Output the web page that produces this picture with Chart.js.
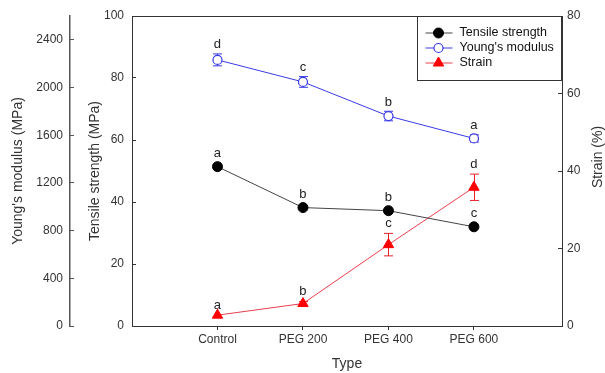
<!DOCTYPE html>
<html>
<head>
<meta charset="utf-8">
<script src="https://cdn.jsdelivr.net/npm/chart.js@4.4.1/dist/chart.umd.min.js"></script>
<style>
  html, body { margin: 0; padding: 0; background: #fff; }
  #wrap { width: 605px; height: 373px; }
</style>
</head>
<body>
<div id="wrap"><canvas id="chart"></canvas></div>
<script>
// Values
const types = ['Control', 'PEG 200', 'PEG 400', 'PEG 600'];

const tensile = [51.4, 38.2, 37.2, 32.0];
const tensileErr = [0, 0, 0, 0];
const tensileLetters = ['a', 'b', 'b', 'c'];

const young = [2232, 2047, 1761, 1573];
const youngErr = [50, 45, 40, 30];
const youngLetters = ['d', 'c', 'b', 'a'];

const strain = [2.8, 5.8, 21.0, 35.8];
const strainErr = [0, 0.5, 2.9, 3.4];
const strainLetters = ['a', 'b', 'c', 'd'];

const tensileTicks = [0, 20, 40, 60, 80, 100];
const youngTicks = [0, 400, 800, 1200, 1600, 2000, 2400];
const strainTicks = [0, 20, 40, 60, 80];

const FONT = 'Liberation Sans, Arial, sans-serif';
const AXIS = '#333';

function points(values) {
  return values.map((v, i) => ({ x: i, y: v }));
}

function setTicks(list) {
  return (scale) => { scale.ticks = list.map(v => ({ value: v })); };
}

// fixed axis width, and no extra room above/below for the end labels
function fixWidth(w) {
  return (scale) => {
    scale.width = w;
    scale.paddingTop = 0;
    scale.paddingBottom = 0;
  };
}

// error bars go under the markers
const errorBars = {
  id: 'errorBars',
  beforeDatasetsDraw(chart) {
    const ctx = chart.ctx;
    const xScale = chart.scales.x;
    chart.data.datasets.forEach(ds => {
      const yScale = chart.scales[ds.yAxisID];
      ctx.save();
      ctx.strokeStyle = ds.errColor;
      ctx.lineWidth = 1;
      ds.data.forEach((p, j) => {
        const e = ds.errors[j];
        if (!e) return;
        const x = Math.round(xScale.getPixelForValue(p.x)) + 0.5;
        const y1 = yScale.getPixelForValue(p.y + e);
        const y2 = yScale.getPixelForValue(p.y - e);
        ctx.beginPath();
        ctx.moveTo(x, y1); ctx.lineTo(x, y2);
        ctx.moveTo(x - 4.5, y1); ctx.lineTo(x + 4.5, y1);
        ctx.moveTo(x - 4.5, y2); ctx.lineTo(x + 4.5, y2);
        ctx.stroke();
      });
      ctx.restore();
    });
  },
  afterDatasetsDraw(chart) {
    // significance letters
    const ctx = chart.ctx;
    const xScale = chart.scales.x;
    ctx.save();
    ctx.font = '13px ' + FONT;
    ctx.fillStyle = '#222';
    ctx.textAlign = 'center';
    ctx.textBaseline = 'middle';
    chart.data.datasets.forEach(ds => {
      const yScale = chart.scales[ds.yAxisID];
      ds.data.forEach((p, j) => {
        const x = xScale.getPixelForValue(p.x);
        const y = yScale.getPixelForValue(p.y + ds.errors[j]) - ds.letterGap;
        ctx.fillText(ds.letters[j], x, y);
      });
    });
    ctx.restore();
  }
};

const frame = {
  id: 'frame',
  afterDraw(chart) {
    const ctx = chart.ctx;
    const area = chart.chartArea;
    ctx.save();
    // top edge of the plot box
    ctx.strokeStyle = AXIS;
    ctx.lineWidth = 1;
    ctx.beginPath();
    ctx.moveTo(area.left, area.top + 0.5);
    ctx.lineTo(area.right, area.top + 0.5);
    ctx.stroke();

    // right axis title reads bottom to top
    ctx.translate(598, 157);
    ctx.rotate(-Math.PI / 2);
    ctx.font = '14px ' + FONT;
    ctx.fillStyle = AXIS;
    ctx.textAlign = 'center';
    ctx.textBaseline = 'middle';
    ctx.fillText('Strain (%)', 0, 0);
    ctx.restore();

    // legend box
    const right = area.right - 0.5;
    const left = right - 144;
    const top = area.top + 0.5;
    ctx.save();
    ctx.fillStyle = '#fff';
    ctx.fillRect(left, top, 144, 64);
    ctx.strokeStyle = AXIS;
    ctx.strokeRect(left, top, 144, 64);
    ctx.font = '12.5px ' + FONT;
    ctx.textBaseline = 'middle';
    chart.data.datasets.forEach((ds, i) => {
      const y = top + 16.5 + i * 15;
      ctx.strokeStyle = ds.borderColor;
      ctx.lineWidth = 1;
      ctx.beginPath();
      ctx.moveTo(left + 8, y); ctx.lineTo(left + 35, y);
      ctx.stroke();
      ctx.fillStyle = ds.pointBackgroundColor;
      ctx.strokeStyle = ds.pointBorderColor;
      ctx.lineWidth = ds.pointBorderWidth;
      Chart.helpers.drawPoint(ctx, {
        pointStyle: ds.pointStyle, radius: ds.pointRadius, rotation: 0, borderWidth: ds.pointBorderWidth
      }, left + 21, y);
      ctx.fillStyle = '#111';
      ctx.fillText(ds.label, left + 42, y);
    });
    ctx.restore();
  }
};

const tickFont = { family: FONT, size: 12 };
const titleFont = { family: FONT, size: 14 };

new Chart(document.getElementById('chart'), {
  type: 'line',
  data: {
    datasets: [
      {
        label: 'Tensile strength',
        data: points(tensile),
        errors: tensileErr,
        letters: tensileLetters,
        letterGap: 13,
        errColor: '#111',
        yAxisID: 'yTensile',
        borderColor: '#444',
        borderWidth: 1,
        pointStyle: 'circle',
        pointRadius: 5,
        pointBackgroundColor: '#000',
        pointBorderColor: '#000',
        pointBorderWidth: 1
      },
      {
        label: "Young's modulus",
        data: points(young),
        errors: youngErr,
        letters: youngLetters,
        letterGap: 9,
        errColor: '#3a3ae8',
        yAxisID: 'yYoung',
        borderColor: '#3a3ae8',
        borderWidth: 1,
        pointStyle: 'circle',
        pointRadius: 4.5,
        pointBackgroundColor: '#fff',
        pointBorderColor: '#3a3ae8',
        pointBorderWidth: 1.2
      },
      {
        label: 'Strain',
        data: points(strain),
        errors: strainErr,
        letters: strainLetters,
        letterGap: 10,
        errColor: '#e8202a',
        yAxisID: 'yStrain',
        borderColor: '#e8404c',
        borderWidth: 1,
        pointStyle: 'triangle',
        pointRadius: 6,
        pointBackgroundColor: '#ff0000',
        pointBorderColor: '#ff0000',
        pointBorderWidth: 1
      }
    ]
  },
  options: {
    responsive: true,
    maintainAspectRatio: false,
    animation: false,
    layout: { padding: { top: 16, right: 23, bottom: 0, left: 0 } },
    plugins: {
      legend: { display: false },
      tooltip: { enabled: false }
    },
    scales: {
      x: {
        type: 'linear',
        position: 'bottom',
        min: -1,
        max: 4.03,
        afterBuildTicks: (scale) => { scale.ticks = types.map((t, i) => ({ value: i })); },
        afterFit: (scale) => { scale.height = 47; },
        ticks: {
          autoSkip: false,
          maxRotation: 0,
          padding: 2,
          color: AXIS,
          font: tickFont,
          callback: (v) => types[v]
        },
        grid: { drawOnChartArea: false, tickLength: 4, color: AXIS },
        border: { color: AXIS, width: 1 },
        title: { display: true, text: 'Type', color: AXIS, font: titleFont, padding: { top: 8, bottom: 0 } }
      },
      yYoung: {
        type: 'linear',
        position: 'left',
        weight: 1,
        min: 0,
        max: 2600,
        afterBuildTicks: setTicks(youngTicks),
        afterFit: fixWidth(70),
        ticks: { padding: 11, color: AXIS, font: tickFont, callback: (v) => String(v) },
        grid: { drawOnChartArea: false, tickLength: -4, color: '#555' },
        border: { color: '#555', width: 1.5 },
        title: { display: true, text: "Young's modulus (MPa)", color: AXIS, font: titleFont, padding: { top: 10, bottom: 0 } }
      },
      yTensile: {
        type: 'linear',
        position: 'left',
        weight: 0,
        min: 0,
        max: 100,
        afterBuildTicks: setTicks(tensileTicks),
        afterFit: fixWidth(62),
        ticks: { padding: 12, color: AXIS, font: tickFont, callback: (v) => String(v) },
        grid: { drawOnChartArea: false, tickLength: -4, color: AXIS },
        border: { color: AXIS, width: 1 },
        title: { display: true, text: 'Tensile strength (MPa)', color: AXIS, font: titleFont, padding: { top: 17, bottom: 0 } }
      },
      yStrain: {
        type: 'linear',
        position: 'right',
        min: 0,
        max: 80,
        afterBuildTicks: setTicks(strainTicks),
        afterFit: fixWidth(20),
        ticks: { padding: 9, color: AXIS, font: tickFont, callback: (v) => String(v) },
        grid: { drawOnChartArea: false, tickLength: -4, color: AXIS },
        border: { color: AXIS, width: 1 }
      }
    }
  },
  plugins: [errorBars, frame]
});
</script>
</body>
</html>
